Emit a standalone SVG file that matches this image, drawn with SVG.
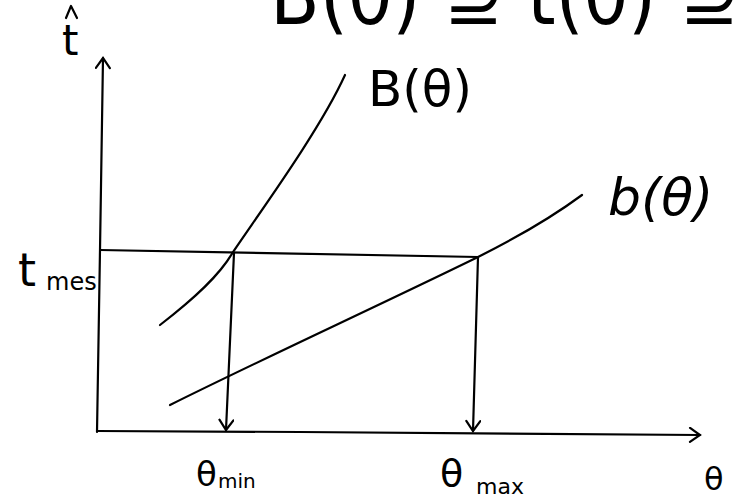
<svg xmlns="http://www.w3.org/2000/svg" width="742" height="500" viewBox="0 0 742 500">
<style>
.ln{fill:none;stroke:#000;stroke-width:2.2;stroke-linecap:round;stroke-linejoin:round}
.tx{font-family:"DejaVu Sans","Liberation Sans",sans-serif;fill:#000}
</style>
<defs>
<marker id="v" viewBox="-12 -8 14 16" markerWidth="14" markerHeight="16" refX="0" refY="0" orient="auto-start-reverse" markerUnits="userSpaceOnUse">
<path d="M-10,-7 L0,0 L-10,7" fill="none" stroke="#000" stroke-width="2.2" stroke-linecap="round"/>
</marker>
</defs>
<rect width="742" height="500" fill="#fff"/>
<g id="top-formula">
<text class="tx" x="270" y="24" font-size="80" textLength="470" lengthAdjust="spacingAndGlyphs">B(θ) ⊇ t(θ) ⊇</text>
</g>
<g id="axes">
<path class="ln" d="M103,58 L100,250 L97,432" marker-start="url(#v)"/>
<path class="ln" d="M97,431 L300,432 L700,435" marker-end="url(#v)"/>
</g>
<g id="curve-B">
<path class="ln" d="M160,325 C195,298 220,275 233,252 C260,212 320,130 345,75"/>
</g>
<g id="curve-b">
<path class="ln" d="M170,405 C260,360 380,305 478,257 C520,236 555,215 582,195"/>
</g>
<g id="labels">
<text class="tx" x="62" y="55" font-size="42">t</text>
<path class="ln" d="M66,18 L71,6 L77,18"/>
<text class="tx" x="18" y="286" font-size="46">t</text>
<text class="tx" x="46" y="290" font-size="24">mes</text>
<text class="tx" x="368" y="106" font-size="50">B(θ)</text>
<text class="tx" x="608" y="215" font-size="52" font-style="italic">b(θ)</text>
<text class="tx" x="196" y="486" font-size="34">θ</text>
<text class="tx" x="218" y="488" font-size="20">min</text>
<text class="tx" x="440" y="486" font-size="38">θ</text>
<text class="tx" x="476" y="494" font-size="22">max</text>
<text class="tx" x="704" y="490" font-size="32">θ</text>
</g>
<g id="connectors">
<path class="ln" d="M100,250 L478,257"/>
<path class="ln" d="M234,253 L226,430" marker-end="url(#v)"/>
<path class="ln" d="M478,257 L473,431" marker-end="url(#v)"/>
</g>
</svg>
